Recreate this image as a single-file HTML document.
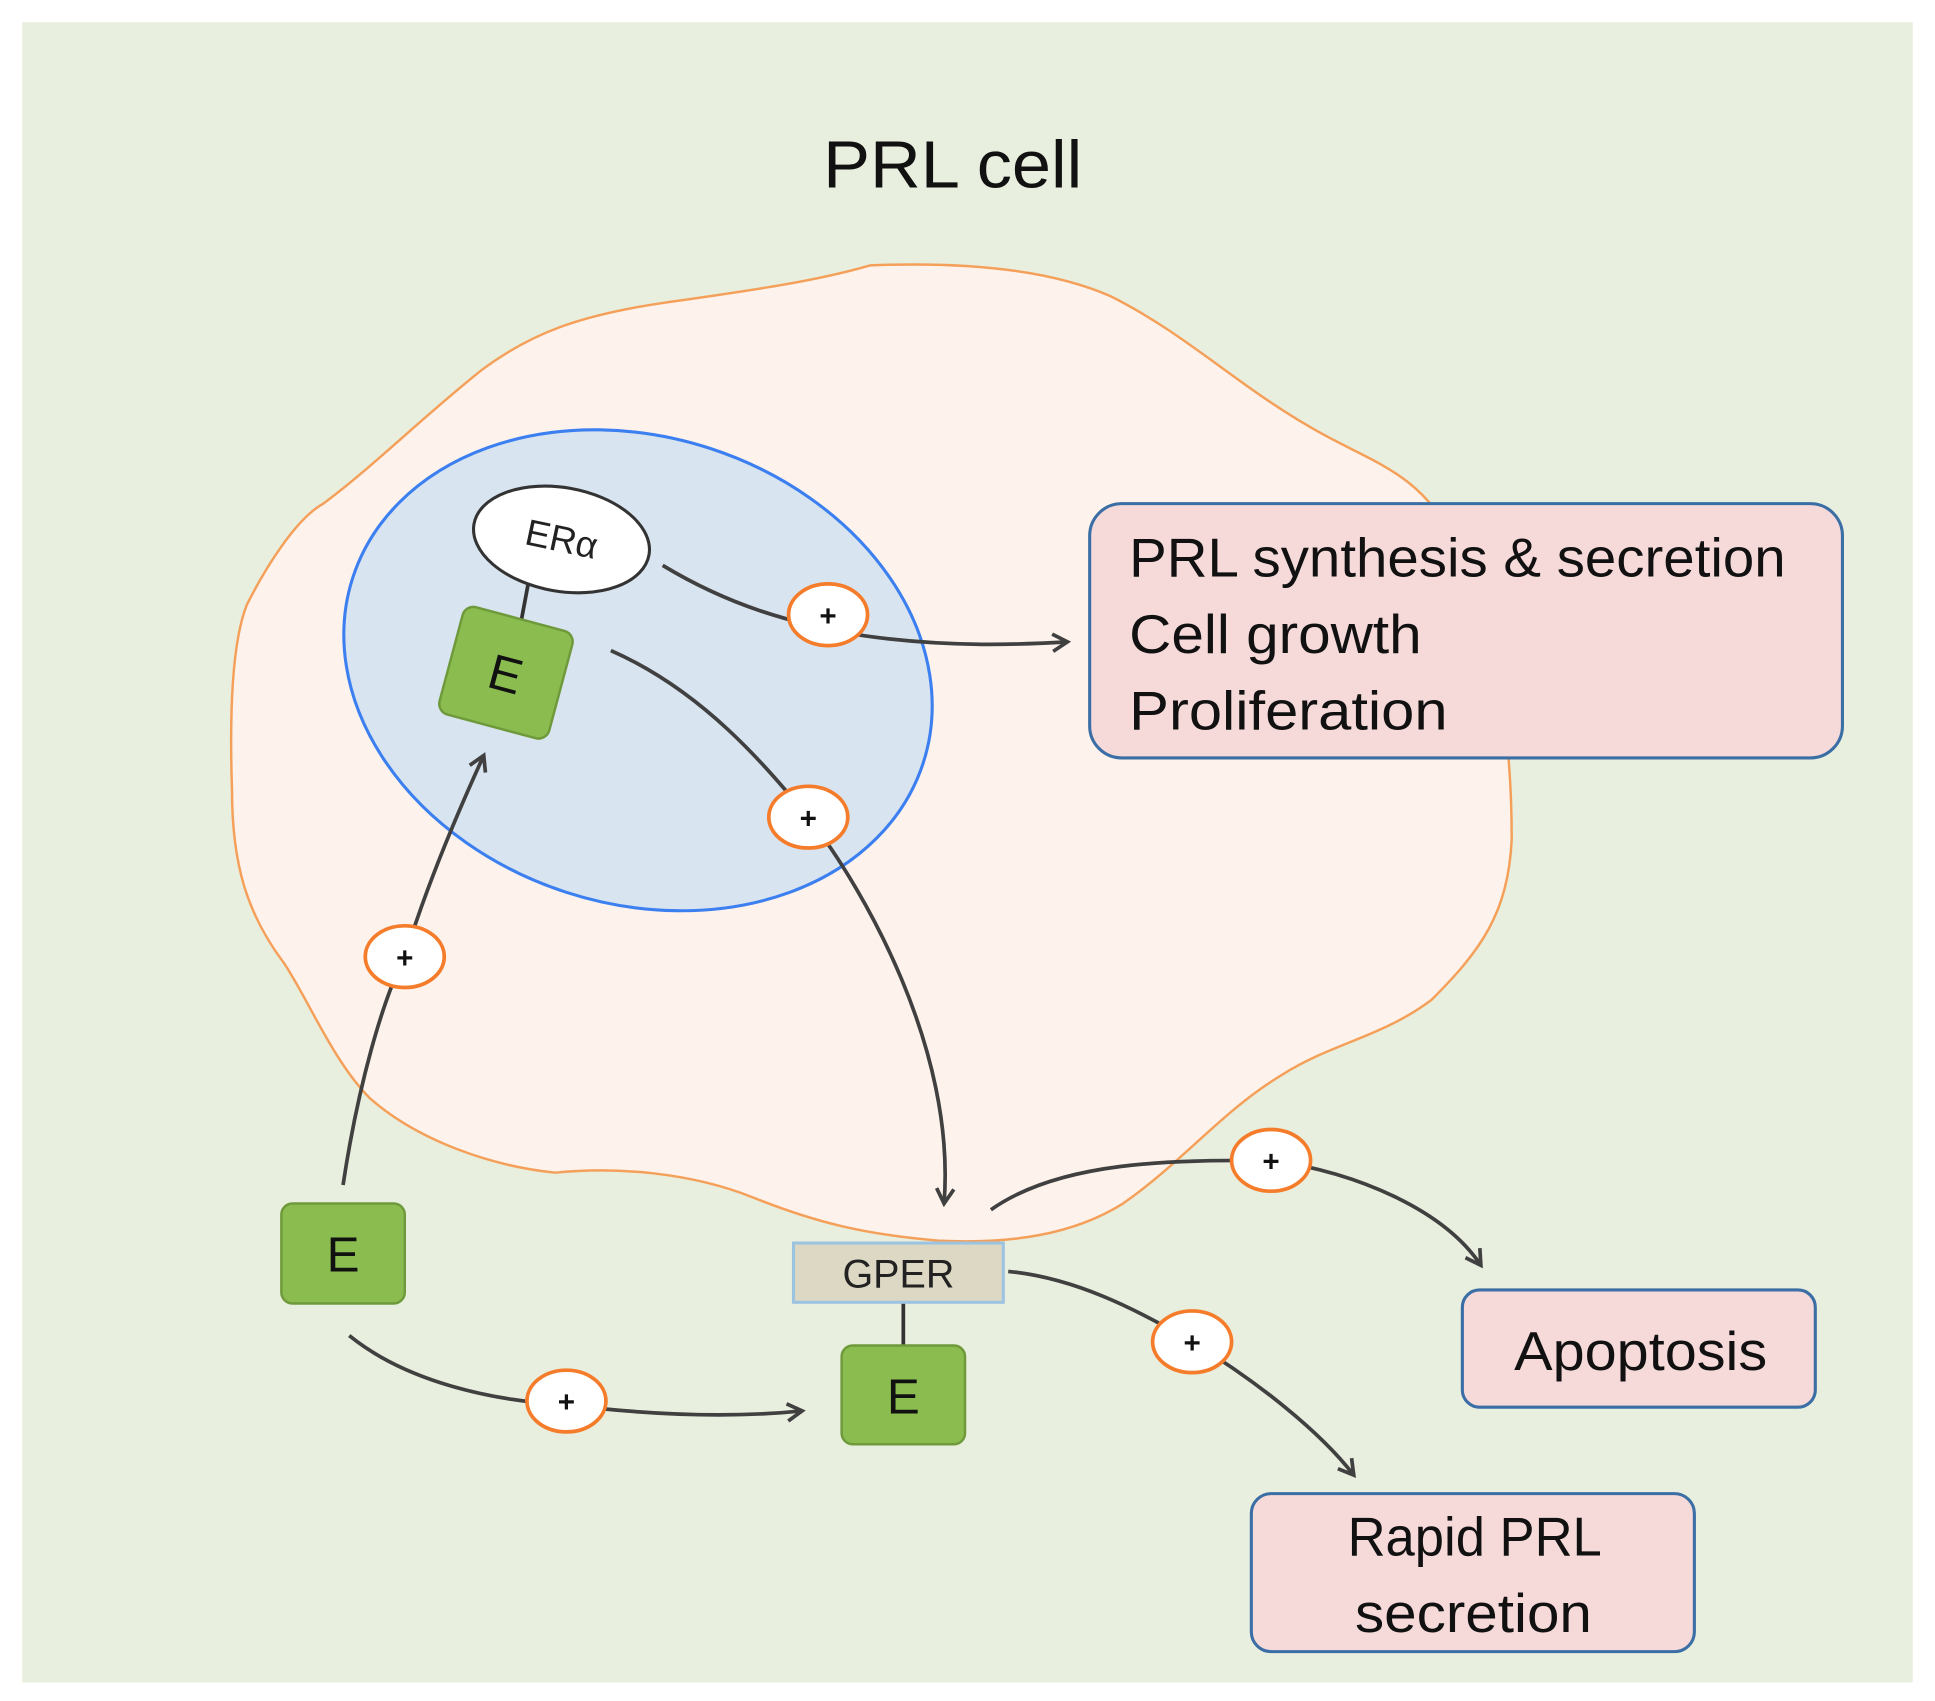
<!DOCTYPE html>
<html><head><meta charset="utf-8"><style>html,body{margin:0;padding:0;background:#fff}svg{display:block}</style></head>
<body>
<svg width="1935" height="1701" viewBox="0 0 1568 1378" preserveAspectRatio="none" xmlns="http://www.w3.org/2000/svg">
<defs>
<marker id="a" viewBox="0 0 20 20" refX="17" refY="10" markerWidth="20" markerHeight="20" orient="auto" markerUnits="userSpaceOnUse">
<polyline points="5,3 17,10 5,17" fill="none" stroke="#404040" stroke-width="3"/>
</marker>
</defs>
<rect x="0" y="0" width="1568" height="1378" fill="#fff"/>
<rect x="18" y="18" width="1532" height="1345" fill="#e9efde"/>
<text x="667" y="152" font-family="Liberation Sans, sans-serif" font-size="54" textLength="210" lengthAdjust="spacingAndGlyphs" fill="#111">PRL cell</text>
<path d="M705,215 C780,212 850,218 900,240 C960,270 1000,310 1060,345 C1110,375 1150,380 1180,440 C1215,520 1225,600 1225,680 C1222,740 1200,770 1160,810 C1120,840 1080,845 1040,870 C990,900 960,940 910,975 C870,1000 820,1008 760,1005 C700,1000 660,990 610,970 C560,950 500,945 450,950 C400,945 340,925 300,890 C270,860 250,810 230,780 C200,740 188,700 188,640 C186,580 188,520 200,490 C215,460 240,420 262,408 C300,380 340,340 390,300 C430,270 470,255 540,245 C610,235 660,228 705,215 Z" fill="#fdf3ec" stroke="#f5a05a" stroke-width="2"/>
<ellipse cx="517" cy="543" rx="243" ry="189" transform="rotate(18 517 543)" fill="#d8e4ef" stroke="#3c7ff0" stroke-width="2.5"/>
<line x1="428" y1="473" x2="422" y2="505" stroke="#333" stroke-width="3"/>
<ellipse cx="455" cy="437" rx="72" ry="42" transform="rotate(10 455 437)" fill="#fff" stroke="#333" stroke-width="2.5"/>
<text x="455" y="447" font-family="Liberation Sans, sans-serif" font-size="30" text-anchor="middle" fill="#222" transform="rotate(12 455 437)">ERα</text>
<g transform="rotate(15 410 545)">
<rect x="364" y="500" width="92" height="90" rx="9" fill="#8bbc4f" stroke="#6f9a3b" stroke-width="2"/>
<text x="410" y="560" font-family="Liberation Sans, sans-serif" font-size="40" text-anchor="middle" fill="#111">E</text>
</g>
<rect x="228" y="975" width="100" height="81" rx="9" fill="#8bbc4f" stroke="#6f9a3b" stroke-width="2"/>
<text x="278" y="1030" font-family="Liberation Sans, sans-serif" font-size="40" text-anchor="middle" fill="#111">E</text>
<line x1="732" y1="1055" x2="732" y2="1090" stroke="#333" stroke-width="3"/>
<rect x="682" y="1090" width="100" height="80" rx="9" fill="#8bbc4f" stroke="#6f9a3b" stroke-width="2"/>
<text x="732" y="1145" font-family="Liberation Sans, sans-serif" font-size="40" text-anchor="middle" fill="#111">E</text>
<rect x="643" y="1007" width="170" height="48" fill="#ddd8c4" stroke="#9cc3e0" stroke-width="2.5"/>
<text x="728" y="1043" font-family="Liberation Sans, sans-serif" font-size="32" text-anchor="middle" fill="#222">GPER</text>
<rect x="883" y="408" width="610" height="206" rx="26" fill="#f6dada" stroke="#3a6ea5" stroke-width="2.5"/>
<g font-family="Liberation Sans, sans-serif" font-size="44" fill="#111">
<text x="915" y="467" textLength="532" lengthAdjust="spacingAndGlyphs">PRL synthesis &amp; secretion</text>
<text x="915" y="529" textLength="237" lengthAdjust="spacingAndGlyphs">Cell growth</text>
<text x="915" y="591" textLength="258" lengthAdjust="spacingAndGlyphs">Proliferation</text>
</g>
<rect x="1185" y="1045" width="286" height="95" rx="14" fill="#f6dada" stroke="#3a6ea5" stroke-width="2.5"/>
<text x="1227" y="1110" font-family="Liberation Sans, sans-serif" font-size="44" textLength="205" lengthAdjust="spacingAndGlyphs" fill="#111">Apoptosis</text>
<rect x="1014" y="1210" width="359" height="128" rx="16" fill="#f6dada" stroke="#3a6ea5" stroke-width="2.5"/>
<text x="1092" y="1260" font-family="Liberation Sans, sans-serif" font-size="44" textLength="206" lengthAdjust="spacingAndGlyphs" fill="#111">Rapid PRL</text>
<text x="1098" y="1322" font-family="Liberation Sans, sans-serif" font-size="44" textLength="192" lengthAdjust="spacingAndGlyphs" fill="#111">secretion</text>
<g fill="none" stroke="#404040" stroke-width="3" marker-end="url(#a)">
<path d="M537,458 C590,490 640,505 700,515 C770,525 830,522 865,520"/>
<path d="M495,527 C570,560 620,620 655,662 C700,720 775,850 765,975"/>
<path d="M278,960 C290,880 310,810 328,775 C345,720 370,660 392,612"/>
<path d="M283,1082 C330,1120 400,1135 459,1138 C540,1148 600,1148 650,1143"/>
<path d="M803,980 C860,940 950,940 1030,940 C1100,950 1170,980 1200,1025"/>
<path d="M817,1030 C870,1035 920,1060 966,1087 C1020,1120 1070,1160 1097,1195"/>
</g>
<g fill="#fff" stroke="#f57c2a" stroke-width="3">
<ellipse cx="671" cy="498" rx="32" ry="25"/>
<ellipse cx="655" cy="662" rx="32" ry="25"/>
<ellipse cx="328" cy="775" rx="32" ry="25"/>
<ellipse cx="459" cy="1135" rx="32" ry="25"/>
<ellipse cx="1030" cy="940" rx="32" ry="25"/>
<ellipse cx="966" cy="1087" rx="32" ry="25"/>
</g>
<g font-family="Liberation Sans, sans-serif" font-size="24" font-weight="bold" text-anchor="middle" fill="#111">
<text x="671" y="507">+</text>
<text x="655" y="671">+</text>
<text x="328" y="784">+</text>
<text x="459" y="1144">+</text>
<text x="1030" y="949">+</text>
<text x="966" y="1096">+</text>
</g>
</svg>
</body></html>
